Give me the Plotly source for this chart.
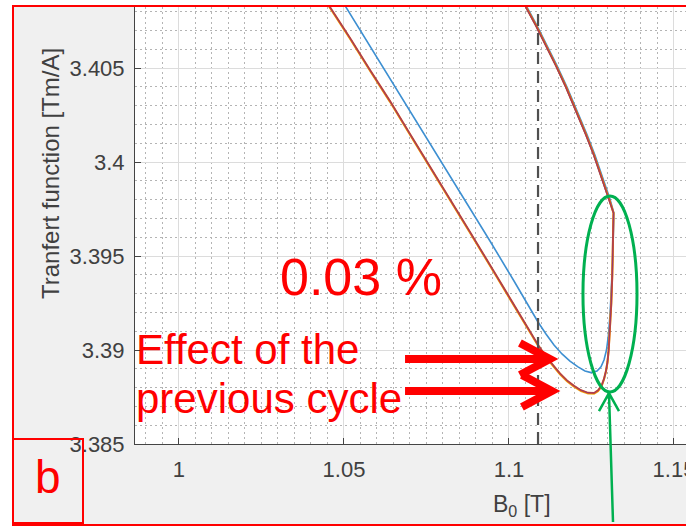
import plotly.graph_objects as go

# ---------------------------------------------------------------
# Transfer function vs. central field B0, successive cycles
# ---------------------------------------------------------------
cycle1_b = [1.04515, 1.05061, 1.05667, 1.06273, 1.06879, 1.07970, 1.08697, 1.09424,
            1.10152, 1.10879, 1.11121, 1.11364, 1.11606, 1.11848, 1.12091, 1.12303,
            1.12485, 1.12667, 1.12788, 1.12879, 1.12955, 1.13015, 1.13061, 1.13106,
            1.13136, 1.13158, 1.13176,
            1.13060, 1.12939, 1.12788, 1.12606, 1.12363, 1.12060, 1.11757, 1.11454,
            1.11151, 1.10848, 1.10545, 1.10242]
cycle1_tf = [3.40979, 3.40824, 3.40654, 3.40479, 3.40303, 3.39995, 3.39787, 3.39580,
             3.39367, 3.39149, 3.39085, 3.39027, 3.38979, 3.38941, 3.38910, 3.38888,
             3.38880, 3.38888, 3.38910, 3.38947, 3.39000, 3.39080, 3.39186, 3.39309,
             3.39452, 3.39585, 3.39729,
             3.39803, 3.39867, 3.39947, 3.40036, 3.40146, 3.40277, 3.40399, 3.40513,
             3.40622, 3.40726, 3.40824, 3.40923]

cycle2_b = [1.04000, 1.04576, 1.05182, 1.05788, 1.06394, 1.07000, 1.07545, 1.08212,
            1.08818, 1.09424, 1.10030, 1.10485, 1.10697, 1.10909, 1.11121, 1.11333,
            1.11545, 1.11758, 1.11970, 1.12182, 1.12394, 1.12576, 1.12697, 1.12803,
            1.12879, 1.12939, 1.12985, 1.13021, 1.13061, 1.13100, 1.13130, 1.13152,
            1.13167,
            1.13030, 1.12909, 1.12758, 1.12576, 1.12333, 1.12030, 1.11727, 1.11424,
            1.11121, 1.10818, 1.10515, 1.10212]
cycle2_tf = [3.40979, 3.40824, 3.40660, 3.40489, 3.40324, 3.40149, 3.39995, 3.39803,
             3.39628, 3.39452, 3.39277, 3.39138, 3.39077, 3.39019, 3.38965, 3.38918,
             3.38875, 3.38838, 3.38809, 3.38786, 3.38772, 3.38771, 3.38785, 3.38809,
             3.38846, 3.38888, 3.38936, 3.39000, 3.39117, 3.39250, 3.39399, 3.39559,
             3.39729,
             3.39803, 3.39867, 3.39947, 3.40036, 3.40146, 3.40277, 3.40399, 3.40513,
             3.40622, 3.40726, 3.40824, 3.40923]

cycle3_b = [1.04000, 1.04576, 1.05182, 1.05788, 1.06394, 1.07000, 1.07545, 1.08212,
            1.08818, 1.09424, 1.10030, 1.10485, 1.10697, 1.10909, 1.11121, 1.11333,
            1.11545, 1.11758, 1.11970, 1.12182, 1.12394, 1.12576, 1.12697, 1.12803,
            1.12879, 1.12939, 1.12985, 1.13021, 1.13061, 1.13100, 1.13130, 1.13152,
            1.13167,
            1.13030, 1.12909, 1.12758, 1.12576, 1.12333, 1.12030, 1.11727, 1.11424,
            1.11121, 1.10818, 1.10515, 1.10212]
cycle3_tf = [3.40975, 3.40820, 3.40656, 3.40485, 3.40320, 3.40145, 3.39991, 3.39799,
             3.39624, 3.39448, 3.39273, 3.39134, 3.39073, 3.39015, 3.38961, 3.38914,
             3.38871, 3.38834, 3.38805, 3.38782, 3.38768, 3.38767, 3.38781, 3.38806,
             3.38844, 3.38887, 3.38936, 3.39000, 3.39117, 3.39250, 3.39399, 3.39559,
             3.39729,
             3.39803, 3.39867, 3.39947, 3.40036, 3.40146, 3.40277, 3.40399, 3.40513,
             3.40622, 3.40726, 3.40824, 3.40923]

cycle4_b = [1.04000, 1.04576, 1.05182, 1.05788, 1.06394, 1.07000, 1.07545, 1.08212,
            1.08818, 1.09424, 1.10030, 1.10485, 1.10697, 1.10909, 1.11121, 1.11333,
            1.11545, 1.11758, 1.11970, 1.12182, 1.12394, 1.12576, 1.12697, 1.12803,
            1.12879, 1.12939, 1.12985, 1.13021, 1.13061, 1.13100, 1.13130, 1.13152,
            1.13167,
            1.13015, 1.12894, 1.12743, 1.12561, 1.12318, 1.12015, 1.11712, 1.11409,
            1.11106, 1.10803, 1.10500, 1.10197]
cycle4_tf = [3.40980, 3.40825, 3.40661, 3.40490, 3.40325, 3.40150, 3.39996, 3.39804,
             3.39629, 3.39453, 3.39278, 3.39139, 3.39078, 3.39020, 3.38966, 3.38919,
             3.38876, 3.38839, 3.38810, 3.38787, 3.38773, 3.38772, 3.38786, 3.38810,
             3.38847, 3.38889, 3.38937, 3.39000, 3.39117, 3.39250, 3.39399, 3.39559,
             3.39729,
             3.39803, 3.39867, 3.39947, 3.40036, 3.40146, 3.40277, 3.40399, 3.40513,
             3.40622, 3.40726, 3.40824, 3.40923]

x_tick_vals = [1.0, 1.05, 1.1, 1.15]
x_tick_text = ["1", "1.05", "1.1", "1.15"]
y_tick_vals = [3.385, 3.39, 3.395, 3.4, 3.405]
y_tick_text = ["3.385", "3.39", "3.395", "3.4", "3.405"]

b0_reference = 1.1088          # dashed marker
spread_label = "0.03 %"

# ---------------------------------------------------------------
W, H = 686, 530
M_L, M_R, M_T, M_B = 135, 0, 7, 86
PW, PH = W - M_L - M_R, H - M_T - M_B
X_RANGE = [0.98667, 1.15364]
Y_RANGE = [3.385, 3.408245]

FONT = "Liberation Sans, Arial, Helvetica, sans-serif"
RED = "#ff0000"
GREEN = "#00b050"
TEXT_GREY = "#404040"


def paper(b, tf):
    """data -> paper coordinates"""
    return ((b - X_RANGE[0]) / (X_RANGE[1] - X_RANGE[0]),
            (tf - Y_RANGE[0]) / (Y_RANGE[1] - Y_RANGE[0]))


def pix(px, py):
    """figure pixels -> paper coordinates"""
    return (px - M_L) / PW, (H - M_B - py) / PH


fig = go.Figure()

series = [
    (cycle1_b, cycle1_tf, "#3d8fd1", 1.6, 1.0),
    (cycle3_b, cycle3_tf, "#edb120", 2.0, 1.0),
    (cycle2_b, cycle2_tf, "#d95319", 2.0, 1.0),
    (cycle4_b, cycle4_tf, "#7e2f8e", 1.0, 0.75),
]
for bx, ty, col, lw, op in series:
    fig.add_trace(go.Scatter(x=bx, y=ty, mode="lines", opacity=op,
                             line=dict(color=col, width=lw),
                             showlegend=False, hoverinfo="skip"))

shapes = []

# white margin outside the red frame
for x0, y0, x1, y1 in [(0, 0, 12, H), (0, 0, W, 5), (0, 526, W, H)]:
    a = pix(x0, y0)
    b = pix(x1, y1)
    shapes.append(dict(type="rect", xref="paper", yref="paper",
                       x0=a[0], y0=b[1], x1=b[0], y1=a[1],
                       fillcolor="white", line=dict(width=0), layer="below"))

# dashed reference line
shapes.append(dict(type="line", xref="x", yref="paper",
                   x0=b0_reference, x1=b0_reference, y0=0, y1=1,
                   line=dict(color="#505050", width=2.2, dash="12px,7px")))

# red arrows: "Effect of the previous cycle"
for tail_b, tip_b, level in [(1.0685, 1.1124, 3.38952), (1.0685, 1.1130, 3.38782)]:
    tx, ty = paper(tail_b, level)
    hx, hy = paper(tip_b, level)
    back = 30 / PW
    spread = 16 / PH
    path = (f"M {tx} {ty} L {hx - 4 / PW} {hy} "
            f"M {hx - back} {hy + spread} L {hx} {hy} L {hx - back} {hy - spread}")
    shapes.append(dict(type="path", xref="paper", yref="paper", path=path,
                       line=dict(color=RED, width=8)))

# green ellipse around the final ramp
shapes.append(dict(type="circle", xref="x", yref="y",
                   x0=1.12242, x1=1.13879, y0=3.38777, y1=3.39819,
                   line=dict(color=GREEN, width=3)))

# green arrow from below the axis
tipx, tipy = paper(1.1303, 3.38771)
tailx, taily = paper(1.13152, 3.38085)
gpath = (f"M {tailx} {taily} L {tipx} {tipy} "
         f"M {tipx - 10 / PW} {tipy - 18 / PH} L {tipx} {tipy} L {tipx + 10 / PW} {tipy - 18 / PH}")
shapes.append(dict(type="path", xref="paper", yref="paper", path=gpath,
                   line=dict(color=GREEN, width=2.5)))

# red frame and the panel-letter box
f0 = pix(13, 6)
f1 = pix(W + 10, 525)
shapes.append(dict(type="rect", xref="paper", yref="paper",
                   x0=f0[0], y0=f1[1], x1=f1[0], y1=f0[1],
                   line=dict(color=RED, width=2)))
b0 = pix(13, 439)
b1 = pix(83, 523)
shapes.append(dict(type="rect", xref="paper", yref="paper",
                   x0=b0[0], y0=b1[1], x1=b1[0], y1=b0[1],
                   line=dict(color=RED, width=2)))

annotations = []
lx, ly = paper(1.05515, 3.39386)
annotations.append(dict(text=spread_label, x=lx, y=ly, xref="paper", yref="paper",
                        showarrow=False, xanchor="center", yanchor="middle",
                        font=dict(family=FONT, size=52, color=RED)))
for txt, tf in [("Effect of the", 3.39005), ("previous cycle", 3.38741)]:
    ex, ey = paper(0.98636, tf)
    annotations.append(dict(text=txt, x=ex, y=ey, xref="paper", yref="paper",
                            showarrow=False, xanchor="left", yanchor="middle",
                            font=dict(family=FONT, size=42, color=RED)))

px_, py_ = pix(48, 477)
annotations.append(dict(text="b", x=px_, y=py_, xref="paper", yref="paper",
                        showarrow=False, xanchor="center", yanchor="middle",
                        font=dict(family=FONT, size=46, color=RED)))

# axis titles
tx_, ty_ = pix(522, 505)
annotations.append(dict(text="B<sub>0</sub> [T]", x=tx_, y=ty_, xref="paper", yref="paper",
                        showarrow=False, xanchor="center", yanchor="middle",
                        font=dict(family=FONT, size=23, color=TEXT_GREY)))
yx_, yy_ = pix(50, 174)
annotations.append(dict(text="Tranfert function [Tm/A]", x=yx_, y=yy_,
                        xref="paper", yref="paper", textangle=-90,
                        showarrow=False, xanchor="center", yanchor="middle",
                        font=dict(family=FONT, size=24, color=TEXT_GREY)))

axis_common = dict(
    showline=True, linecolor="#444444", linewidth=1,
    ticks="inside", ticklen=6, tickcolor="#444444", tickwidth=1,
    showgrid=True, gridcolor="#dcdcdc", gridwidth=1,
    zeroline=False, mirror=False, automargin=False,
    ticklabeloverflow="allow",
    tickfont=dict(family=FONT, size=22, color=TEXT_GREY),
)

fig.update_layout(
    width=W, height=H,
    margin=dict(l=M_L, r=M_R, t=M_T, b=M_B, autoexpand=False),
    paper_bgcolor="#f0f0f0", plot_bgcolor="white",
    showlegend=False,
    shapes=shapes, annotations=annotations,
    xaxis=dict(range=X_RANGE, tickmode="array", tickvals=x_tick_vals,
               ticktext=x_tick_text, ticklabelstandoff=6,
               minor=dict(dtick=0.005, tick0=1.0, showgrid=True,
                          gridcolor="#b4b4b4", griddash="1.5px,3.5px", gridwidth=1),
               **axis_common),
    yaxis=dict(range=Y_RANGE, tickmode="array", tickvals=y_tick_vals,
               ticktext=y_tick_text, ticklabelstandoff=5,
               minor=dict(dtick=0.001, tick0=3.385, showgrid=True,
                          gridcolor="#b4b4b4", griddash="1.5px,3.5px", gridwidth=1),
               **axis_common),
)

fig.write_html("out.html")
